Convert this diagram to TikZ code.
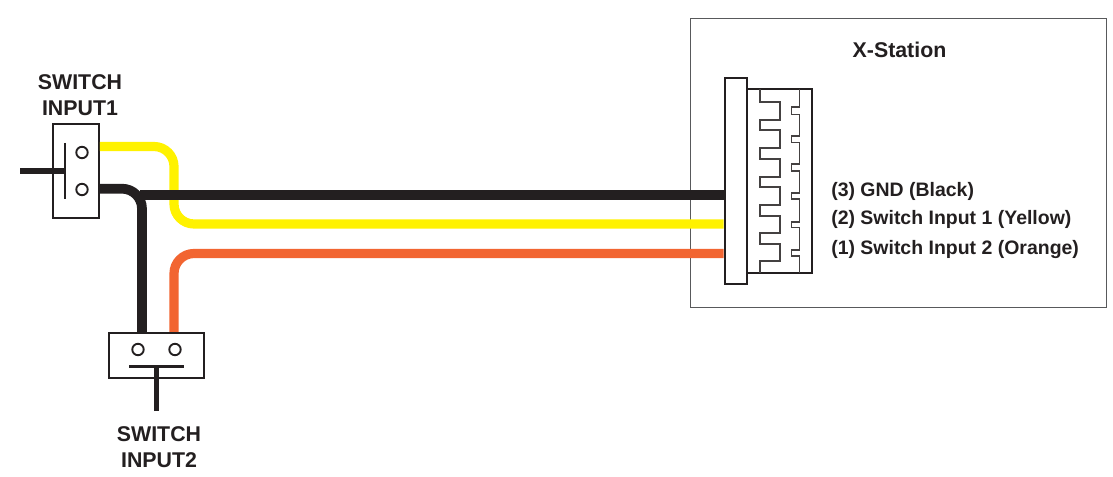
\documentclass[tikz,border=0pt]{standalone}
\usepackage{fontspec}
\setmainfont{Liberation Sans}
\definecolor{ink}{HTML}{231F20}
\definecolor{wyellow}{HTML}{FFF200}
\definecolor{worange}{HTML}{F26531}
\definecolor{boxgray}{HTML}{58595B}
\begin{document}
\begin{tikzpicture}[x=0.75pt,y=-0.75pt,
  lbl/.style={font=\bfseries\fontsize{16}{19.5}\selectfont,text=ink,inner sep=0pt,align=center},
  pinlbl/.style={font=\bfseries\fontsize{14.6}{17}\selectfont,text=ink,inner sep=0pt,anchor=west},
  swbox/.style={draw=ink,line width=1.4pt,fill=white,inner sep=0pt},
  pin/.style={circle,draw=ink,line width=1.4pt,fill=white,inner sep=0pt,minimum size=8.6pt},
  wire/.style={line width=6.9pt,rounded corners=15pt},
  lead/.style={draw=ink,line width=4.4pt},
  comb/.style={draw=ink!85,line width=1.2pt,line join=miter}]
\useasboundingbox (0,0) rectangle (1113,477);
\fill[white] (0,0) rectangle (1113,477);
% station frame
\node[draw=boxgray,line width=0.7pt,inner sep=0pt,minimum width=312pt,minimum height=216.75pt] (station) at (898,162.5) {};
\node[lbl] (title) at (899.5,50) {X-Station};
% switch bodies
\node[swbox,minimum width=34.5pt,minimum height=70.5pt] (swa) at (76,171) {};
\node[swbox,minimum width=71pt,minimum height=34pt] (swb) at (156.5,355.5) {};
\node[pin] (pa1) at (82,152.5) {};
\node[pin] (pa2) at (82,189.5) {};
\node[pin] (pb1) at (138,349.5) {};
\node[pin] (pb2) at (175,349.5) {};
% connector
\node[draw=ink,line width=2.2pt,inner sep=0pt,minimum width=55.5pt,minimum height=138pt] (body) at (775,181) {};
\node[draw=ink,line width=2.2pt,fill=white,inner sep=0pt,minimum width=16.5pt,minimum height=154.5pt] (plate) at (736,181) {};
% wires
\coordinate (ya) at (174,146.5);
\coordinate (yb) at (174,224);
\coordinate (oa) at (174,253.5);
\coordinate (bk) at (142,188.7);
\draw[wire,wyellow] (ya -| swa.east) -- (ya) -- (yb) -- (yb -| plate.west);
\draw[wire,worange] (oa |- swb.north) -- (oa) -- (oa -| plate.west);
\draw[wire,ink,line width=7.3pt] (bk -| swa.east) -- (bk) -- (bk |- swb.north);
\coordinate (bh) at (140,195);
\draw[ink,line width=7.5pt] (bh) -- (bh -| plate.west);
% switch levers
\coordinate (la) at (20,171);
\coordinate (lb) at (156.5,411);
\coordinate (ba) at (65,143);
\coordinate (bb) at (65,199);
\coordinate (bc) at (129,366.5);
\coordinate (bd) at (184,366.5);
\draw[lead] (la) -- (ba |- la);
\draw[ink,line width=1.6pt] (ba) -- (bb);
\draw[lead] (lb) -- (lb |- bc);
\draw[ink,line width=1.6pt] (bc) -- (bd);
% connector teeth
\draw[comb] (760,89) -- (760,102) -- (780,102) -- (780,120) -- (760,120) -- (760,130) -- (780,130) -- (780,148) -- (760,148) -- (760,159) -- (780,159) -- (780,177) -- (760,177) -- (760,187) -- (780,187) -- (780,205) -- (760,205) -- (760,216) -- (780,216) -- (780,233) -- (760,233) -- (760,244) -- (780,244) -- (780,261) -- (760,261) -- (760,273);
\draw[comb] (799.5,89) -- (799.5,107) -- (791.5,107) -- (791.5,114.5) -- (799.5,114.5) -- (799.5,136) -- (791.5,136) -- (791.5,142.5) -- (799.5,142.5) -- (799.5,164) -- (791.5,164) -- (791.5,171) -- (799.5,171) -- (799.5,193) -- (791.5,193) -- (791.5,199) -- (799.5,199) -- (799.5,222) -- (791.5,222) -- (791.5,227.5) -- (799.5,227.5) -- (799.5,250) -- (791.5,250) -- (791.5,256) -- (799.5,256) -- (799.5,273);
% labels
\node[lbl] (swal) at (80,95) {SWITCH\\INPUT1};
\node[lbl] (swbl) at (159,447.5) {SWITCH\\INPUT2};
\node[pinlbl] (p3) at (831,191.5) {(3) GND (Black)};
\node[pinlbl] (p2) at (831,219.5) {(2) Switch Input 1 (Yellow)};
\node[pinlbl] (p1) at (831,249.5) {(1) Switch Input 2 (Orange)};
\end{tikzpicture}
\end{document}
